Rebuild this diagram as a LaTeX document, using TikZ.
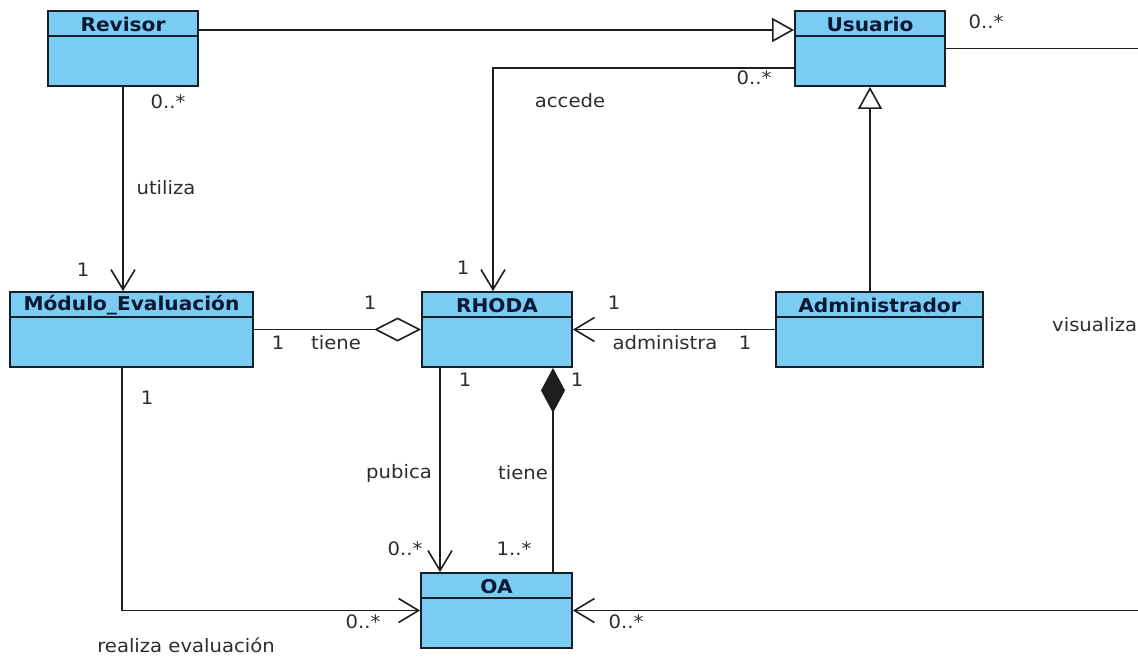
\documentclass[tikz,border=0pt]{standalone}
\usepackage{fontspec}
\setmainfont{DejaVu Sans}
\newfontfamily\lab[FakeStretch=1.06]{DejaVu Sans}
\usetikzlibrary{arrows.meta}
\definecolor{clsfill}{RGB}{122,204,243}
\definecolor{clsline}{RGB}{22,32,44}
\definecolor{ttlcol}{RGB}{10,24,52}
\definecolor{lblcol}{RGB}{45,45,45}
\definecolor{conncol}{RGB}{30,30,30}
\tikzset{
  cls/.style={draw=clsline, line width=1.8pt, fill=clsfill, minimum height=75pt, inner sep=0pt},
  lbl/.style={font=\lab\fontsize{18.5}{22}\selectfont, text=lblcol, inner sep=1pt},
  ttl/.style={font=\lab\bfseries\fontsize{19}{22}\selectfont, text=ttlcol, inner sep=0pt},
  conn/.style={line width=1.6pt, draw=conncol},
  navarrow/.style={conn, -{Straight Barb[length=20pt,width=24pt]}},
  genarrow/.style={conn, -{Triangle[length=22pt,width=24pt,fill=white]}},
}
\newcommand\umlcls[5]{%
  \node[cls, minimum width=#4pt] (#1) at (#2,#3) {};
  \draw[draw=clsline, line width=1.6pt] ([yshift=-26pt]#1.north west) -- ([yshift=-26pt]#1.north east);
  \node[ttl] (#1-t) at ([yshift=-14pt]#1.north) {#5};
}
\begin{document}
\begin{tikzpicture}[x=1pt,y=-1pt]
\clip (0,0) rectangle (1138,657);
\fill[white] (0,0) rectangle (1138,657);

\umlcls{rev}{123}{48.5}{150}{Revisor}
\umlcls{usu}{870}{48.5}{150}{Usuario}
\umlcls{mod}{131.5}{329.5}{243}{Módulo\_Evaluación}
\umlcls{rho}{497}{329.5}{150}{RHODA}
\umlcls{adm}{879.5}{329.5}{207}{Administrador}
\umlcls{oa}{496.5}{610.5}{151}{OA}

\coordinate (rt1) at (1138,48.5);
\coordinate (rt2) at (1138,610.5);

% connectors
\draw[genarrow] (rev.east |- 0,30) -- (usu.west |- 0,30);
\draw[conn] (usu.east) -- (rt1);
\draw[navarrow] (usu.west |- 0,68) -| (rho.north -| 493,0);
\draw[genarrow] (adm.north -| 870,0) -- (usu.south);
\draw[navarrow] (rev.south) -- (mod.north -| rev.south);
\draw[conn, -{Diamond[length=47pt,width=24pt,fill=white]}] (mod.east) -- (rho.west);
\draw[navarrow] (adm.west) -- (rho.east);
\draw[navarrow] (rho.south -| 440,0) -- (oa.north -| 440,0);
\draw[conn, {Diamond[length=45pt,width=24pt]}-] (rho.south -| 553,0) -- (oa.north -| 553,0);
\draw[navarrow] (mod.south -| 122,0) |- (oa.west);
\draw[navarrow] (rt2) -- (oa.east);

% labels
\node[lbl] (m1) at (168,102) {0..*};
\node[lbl] (a1) at (166,188) {utiliza};
\node[lbl] (m2) at (83,270) {1};
\node[lbl] (m3) at (986,22) {0..*};
\node[lbl] (m4) at (754,78) {0..*};
\node[lbl] (a2) at (570,101) {accede};
\node[lbl] (m5) at (463,268) {1};
\node[lbl] (m6) at (370,303) {1};
\node[lbl] (m7) at (278,343) {1};
\node[lbl] (a3) at (336,343) {tiene};
\node[lbl] (m8) at (614,303) {1};
\node[lbl] (a4) at (665,343) {administra};
\node[lbl] (m9) at (745,343) {1};
\node[lbl, anchor=west] (a5) at (1051,325) {visualiza};
\node[lbl] (m10) at (465,380) {1};
\node[lbl] (m11) at (577,380) {1};
\node[lbl] (a6) at (399,473) {pubica};
\node[lbl] (a7) at (523,473) {tiene};
\node[lbl] (m12) at (405,549) {0..*};
\node[lbl] (m13) at (514,549) {1..*};
\node[lbl] (m14) at (147,398) {1};
\node[lbl] (m15) at (363,622) {0..*};
\node[lbl] (m16) at (626,622) {0..*};
\node[lbl] (a8) at (186,645) {realiza evaluación};
\end{tikzpicture}
\end{document}
